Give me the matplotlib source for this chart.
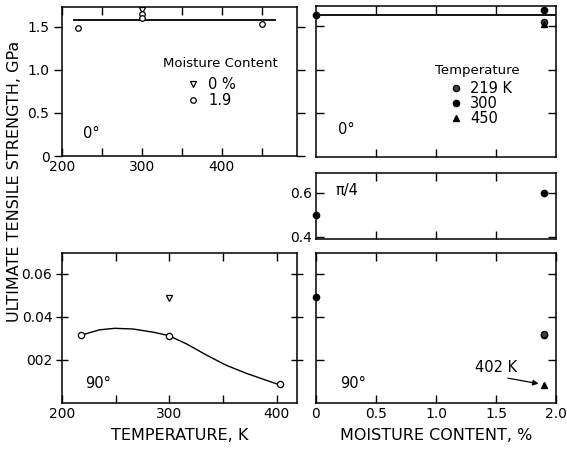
import matplotlib
matplotlib.use("Agg")
import matplotlib.pyplot as plt

W, H = 567, 449

# 0 deg, strength vs temperature (GPa)
temp_0deg_dry = [300]
str_0deg_dry = [1.70]
temp_0deg_wet = [220, 300, 300, 450]
str_0deg_wet = [1.49, 1.65, 1.60, 1.535]
fit_0deg_t = [215, 466]
fit_0deg_s = [1.578, 1.578]

# 0 deg, strength vs moisture
moist_219_0deg = [1.9]
str_219_0deg = [1.55]
moist_300_0deg = [0.0, 1.9]
str_300_0deg = [1.63, 1.68]
moist_450_0deg = [1.9]
str_450_0deg = [1.52]
fit_0deg_m = [0.0, 2.0]
fit_0deg_ms = [1.63, 1.63]

# pi/4
moist_pi4 = [0.0, 1.9]
str_pi4 = [0.50, 0.60]

# 90 deg, strength vs temperature
temp_90deg_dry = [300]
str_90deg_dry = [0.0485]
temp_90deg_wet = [218, 300, 403]
str_90deg_wet = [0.0315, 0.031, 0.0088]
curve_90_t = [219, 235, 249, 266, 285, 299, 316, 335, 353, 372, 390, 401]
curve_90_s = [0.0316, 0.0339, 0.0346, 0.0343, 0.0328, 0.0313, 0.0274,
              0.0221, 0.0175, 0.0137, 0.0106, 0.0087]

# 90 deg, strength vs moisture
moist_300_90 = [0.0, 1.9]
str_300_90 = [0.049, 0.0315]
moist_219_90 = [1.9]
str_219_90 = [0.032]
moist_402_90 = [1.9]
str_402_90 = [0.0085]

plt.rcParams['font.family'] = ['DejaVu Sans']
plt.rcParams['font.size'] = 10

fig = plt.figure(figsize=(W / 100, H / 100), dpi=100)


def rect(x0, y0, x1, y1):
    return [x0 / W, 1 - y1 / H, (x1 - x0) / W, (y1 - y0) / H]


def style(ax):
    for s in ax.spines.values():
        s.set_linewidth(1.1)
    ax.tick_params(which='both', direction='in', top=True, right=True,
                   length=6, width=1.0, labelsize=10, pad=3)


# top left
axTL = fig.add_axes(rect(62, 7, 297, 156))
style(axTL)
axTL.plot(fit_0deg_t, fit_0deg_s, color='k', lw=1.3)
h_dry, = axTL.plot(temp_0deg_dry, str_0deg_dry, 'v', ms=4, mfc='white', mec='k', mew=0.9)
h_wet, = axTL.plot(temp_0deg_wet, str_0deg_wet, 'o', ms=4, mfc='white', mec='k', mew=0.9)
axTL.set_xlim(200, 494)
axTL.set_ylim(0, 1.73)
axTL.set_xticks([200, 250, 300, 350, 400, 450])
axTL.set_xticklabels(['200', '', '300', '', '400', ''])
axTL.set_yticks([0, 0.5, 1.0, 1.5])
axTL.set_yticklabels(['0', '0.5', '1.0', '1.5'])
axTL.tick_params(axis='y', which='both', left=True, direction='out')
axTL.tick_params(axis='y', right=True)
axTL.text(0.09, 0.15, '0°', transform=axTL.transAxes, fontsize=10.5, va='center')
axTL.text(0.43, 0.62, 'Moisture Content', transform=axTL.transAxes,
          fontsize=9.5, va='center')
axTL.legend([h_dry, h_wet], ['0 %', '1.9'], loc='upper left',
            bbox_to_anchor=(0.525, 0.53), frameon=False, fontsize=10.5,
            handlelength=1.0, handletextpad=0.55, borderpad=0, borderaxespad=0,
            labelspacing=0.1)

# top right
axTR = fig.add_axes(rect(316, 6, 556, 157))
style(axTR)
axTR.plot(fit_0deg_m, fit_0deg_ms, color='k', lw=1.3)
h219, = axTR.plot(moist_219_0deg, str_219_0deg, 'o', ms=4.5, mfc='0.25', mec='k', mew=0.9)
h300, = axTR.plot(moist_300_0deg, str_300_0deg, 'o', ms=4.5, mfc='k', mec='k', clip_on=False)
h450, = axTR.plot(moist_450_0deg, str_450_0deg, '^', ms=4.5, mfc='k', mec='k')
axTR.set_xlim(0, 2.0)
axTR.set_ylim(0, 1.73)
axTR.set_xticks([0.5, 1.0, 1.5])
axTR.set_yticks([0.5, 1.0, 1.5])
axTR.tick_params(labelbottom=False, labelleft=False)
axTR.text(0.09, 0.18, '0°', transform=axTR.transAxes, fontsize=10.5, va='center')
axTR.text(0.497, 0.57, 'Temperature', transform=axTR.transAxes,
          fontsize=9.5, va='center')
axTR.legend([h219, h300, h450], ['219 K', '300', '450'], loc='upper left',
            bbox_to_anchor=(0.555, 0.505), frameon=False, fontsize=10.5,
            handlelength=1.0, handletextpad=0.45, borderpad=0, borderaxespad=0,
            labelspacing=0.02)

# middle right (pi/4)
axMR = fig.add_axes(rect(316, 173, 556, 239))
style(axMR)
axMR.plot(moist_pi4, str_pi4, 'o', ms=4.5, mfc='k', mec='k', clip_on=False)
axMR.set_xlim(0, 2.0)
axMR.set_ylim(0.39, 0.69)
axMR.set_xticks([0.5, 1.0, 1.5])
axMR.set_yticks([0.4, 0.6])
axMR.set_yticklabels(['0.4', '0.6'])
axMR.tick_params(labelbottom=False)
axMR.text(0.08, 0.74, 'π/4', transform=axMR.transAxes, fontsize=10.5, va='center')

# bottom left
axBL = fig.add_axes(rect(62, 253, 297, 403))
style(axBL)
axBL.plot(curve_90_t, curve_90_s, color='k', lw=1.0)
axBL.plot(temp_90deg_wet, str_90deg_wet, 'o', ms=4.5, mfc='white', mec='k', mew=0.9)
axBL.plot(temp_90deg_dry, str_90deg_dry, 'v', ms=4, mfc='white', mec='k', mew=0.9)
axBL.set_xlim(200, 419)
axBL.set_ylim(0, 0.0695)
axBL.set_xticks([200, 250, 300, 350, 400])
axBL.set_xticklabels(['200', '', '300', '', '400'])
axBL.set_yticks([0.02, 0.04, 0.06])
axBL.set_yticklabels(['002', '0.04', '0.06'])
axBL.tick_params(axis='y', which='both', left=True, direction='inout', length=8)
axBL.tick_params(axis='y', right=True)
axBL.text(0.10, 0.133, '90°', transform=axBL.transAxes, fontsize=10.5, va='center')
axBL.set_xlabel('TEMPERATURE, K', fontsize=11.5, labelpad=5)

# bottom right
axBR = fig.add_axes(rect(316, 253, 556, 403))
style(axBR)
axBR.plot(moist_300_90, str_300_90, 'o', ms=4.5, mfc='k', mec='k', clip_on=False)
axBR.plot(moist_219_90, str_219_90, 'o', ms=4.5, mfc='0.25', mec='k', mew=0.9)
axBR.plot(moist_402_90, str_402_90, '^', ms=4.5, mfc='k', mec='k')
axBR.annotate('402 K', xy=(moist_402_90[0], str_402_90[0]), xytext=(1.5, 0.0165),
              ha='center', va='center', fontsize=10.5,
              arrowprops=dict(arrowstyle='-|>', color='k', lw=0.9,
                              shrinkA=2, shrinkB=4, relpos=(0.35, 0.0),
                              mutation_scale=8))
axBR.set_xlim(0, 2.0)
axBR.set_ylim(0, 0.0695)
axBR.set_xticks([0, 0.5, 1.0, 1.5, 2.0])
axBR.set_xticklabels(['0', '0.5', '1.0', '1.5', '2.0'])
axBR.set_yticks([0.02, 0.04, 0.06])
axBR.tick_params(labelleft=False)
axBR.text(0.10, 0.133, '90°', transform=axBR.transAxes, fontsize=10.5, va='center')
axBR.set_xlabel('MOISTURE CONTENT, %', fontsize=11.5, labelpad=5)

fig.text(15 / W, 1 - 181 / H, 'ULTIMATE TENSILE STRENGTH, GPa', rotation=90,
         ha='center', va='center', fontsize=11.5)

fig.savefig('out.png', dpi=100)
